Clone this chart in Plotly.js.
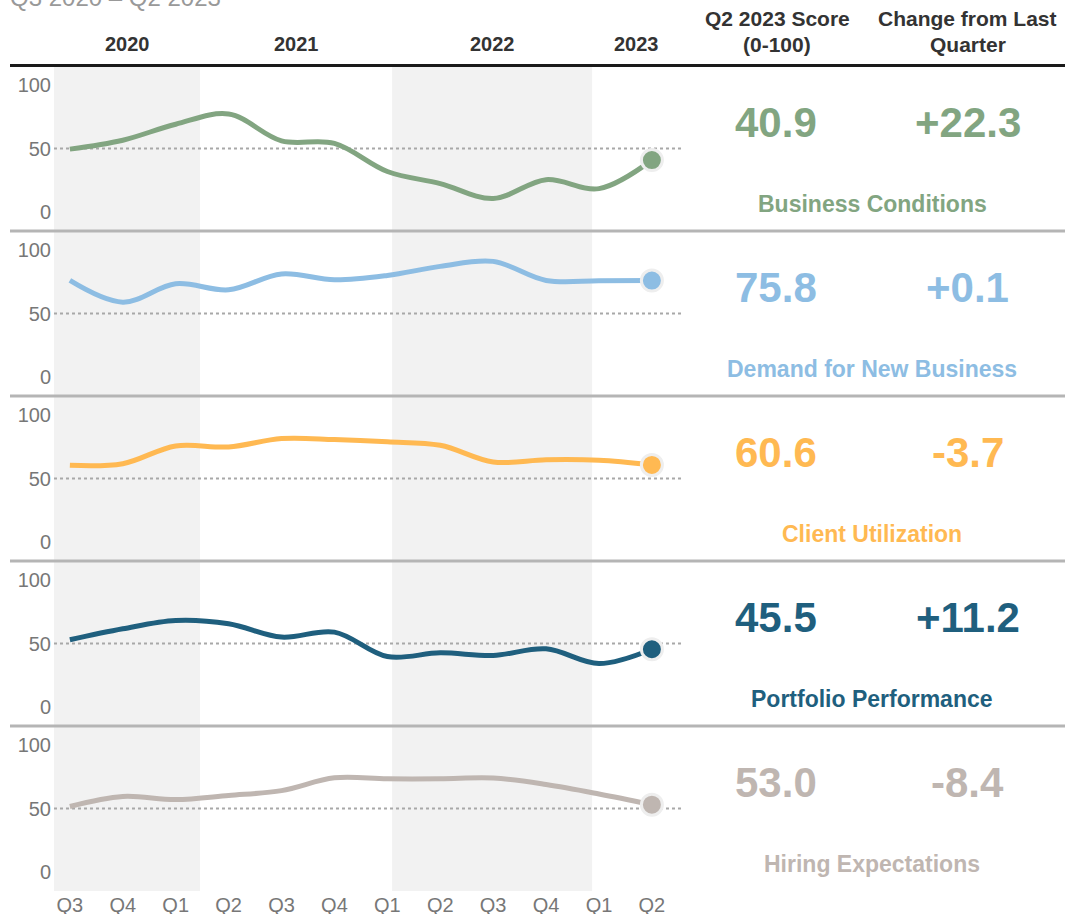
<!DOCTYPE html>
<html><head><meta charset="utf-8">
<script src="https://cdn.plot.ly/plotly-3.0.1.min.js"></script>
<style>html,body{margin:0;padding:0;background:#fff;overflow:hidden}#chart{width:1065px;height:914px}</style>
</head><body><div id="chart"></div><script>
// ---- data ----
const quarters = ['Q3','Q4','Q1','Q2','Q3','Q4','Q1','Q2','Q3','Q4','Q1','Q2'];
const years = ['2020','2021','2022','2023'];
const metrics = ['Business Conditions','Demand for New Business','Client Utilization','Portfolio Performance','Hiring Expectations'];
const businessConditions   = [49.5,56.5,69.0,77.0,56.0,54.0,32.0,22.5,10.8,25.6,18.6,40.9];
const demandNewBusiness    = [75.9,58.9,73.3,68.6,81.0,76.4,79.8,86.9,90.8,75.9,75.7,75.8];
const clientUtilization    = [60.3,61.6,75.5,74.7,81.3,80.5,78.7,76.0,62.9,64.7,64.3,60.6];
const portfolioPerformance = [52.9,61.5,68.0,65.4,55.0,58.9,39.8,42.7,40.6,45.8,34.3,45.5];
const hiringExpectations   = [51.6,59.4,57.0,60.2,64.0,74.0,73.2,73.2,73.8,68.8,61.4,53.0];
const scores  = ['40.9','75.8','60.6','45.5','53.0'];
const changes = ['+22.3','+0.1','-3.7','+11.2','-8.4'];

// ---- styling / layout helpers ----
const series = [businessConditions, demandNewBusiness, clientUtilization, portfolioPerformance, hiringExpectations];
const colors = ['#82a581','#8dbde3','#ffb952','#1f5f7e','#bfb6b1'];
const yearEdges = [-0.3, 2.46, 6.09, 9.87, 11.55];
const FONT = 'Liberation Sans, Arial, sans-serif';
const W = 1065, H = 914, L = 54, R = 681, T = 66, B = 891, PH = 165;
const px = x => (x - L) / (R - L);
const py = y => (B - y) / (B - T);
const xIdx = quarters.map((q, i) => i);

const traces = [];
const shapes = [];
const annotations = [];
const layout = {
  width: W, height: H,
  margin: {l: L, r: W - R, t: T, b: H - B, pad: 0},
  paper_bgcolor: '#fff', plot_bgcolor: 'rgba(0,0,0,0)',
  showlegend: false,
  font: {family: FONT, color: '#777'},
  xaxis: {
    range: [yearEdges[0], yearEdges[yearEdges.length - 1]],
    tickvals: xIdx, ticktext: quarters,
    tickfont: {size: 20, color: '#777', family: FONT},
    showgrid: false, zeroline: false, showline: false, ticks: '', ticklabelstandoff: 0,
    anchor: 'y5', fixedrange: true
  },
  shapes, annotations
};

// year bands
for (let i = 0; i < years.length; i++) {
  if (i % 2 === 0) {
    shapes.push({type: 'rect', xref: 'x', yref: 'paper', x0: yearEdges[i], x1: yearEdges[i + 1],
      y0: 0, y1: 1, fillcolor: '#f2f2f2', line: {width: 0}, layer: 'below'});
  }
  annotations.push({xref: 'x', yref: 'paper', x: (yearEdges[i] + yearEdges[i + 1]) / 2, y: py(44),
    text: '<b>' + years[i] + '</b>', showarrow: false, xanchor: 'center', yanchor: 'middle',
    font: {size: 20, color: '#333', family: FONT}});
}

series.forEach((vals, k) => {
  const ax = 'y' + (k + 1);
  const top = T + PH * k, bot = top + PH;
  layout['yaxis' + (k + 1)] = {
    domain: [py(bot), py(top)], range: [-14.6, 114.6],
    tickvals: [0, 50, 100], tickfont: {size: 20, color: '#777', family: FONT},
    showgrid: false, zeroline: false, showline: false, ticks: '', ticklabelstandoff: 2,
    anchor: 'x', fixedrange: true
  };
  // reference line at 50
  shapes.push({type: 'line', xref: 'paper', yref: ax, x0: 0, x1: 1, y0: 50, y1: 50,
    line: {color: '#a8a8a8', width: 2, dash: 'dot'}, layer: 'below'});
  traces.push({x: xIdx, y: vals, xaxis: 'x', yaxis: ax, type: 'scatter', mode: 'lines',
    line: {color: colors[k], width: 5, shape: 'spline', smoothing: 1}, hoverinfo: 'skip'});
  const n = vals.length - 1;
  traces.push({x: [xIdx[n]], y: [vals[n]], xaxis: 'x', yaxis: ax, type: 'scatter', mode: 'markers',
    marker: {color: colors[k], size: 21, line: {color: '#eeeeee', width: 3}}, cliponaxis: false, hoverinfo: 'skip'});
  // right side texts
  annotations.push({xref: 'paper', yref: 'paper', x: px(776), y: py(top + 56), text: '<b>' + scores[k] + '</b>',
    showarrow: false, xanchor: 'center', yanchor: 'middle', font: {size: 42, color: colors[k], family: FONT}});
  annotations.push({xref: 'paper', yref: 'paper', x: px(968), y: py(top + 56), text: '<b>' + changes[k] + '</b>',
    showarrow: false, xanchor: 'center', yanchor: 'middle', font: {size: 42, color: colors[k], family: FONT}});
  annotations.push({xref: 'paper', yref: 'paper', x: px(872), y: py(top + 138), text: '<b>' + metrics[k] + '</b>',
    showarrow: false, xanchor: 'center', yanchor: 'middle', font: {size: 23, color: colors[k], family: FONT}});
  // dividers
  if (k > 0) {
    shapes.push({type: 'line', xref: 'paper', yref: 'paper', x0: px(10), x1: px(1065), y0: py(top), y1: py(top),
      line: {color: '#b5b5b5', width: 3}});
  }
});

// top rule
shapes.push({type: 'line', xref: 'paper', yref: 'paper', x0: px(10), x1: px(1065), y0: py(65.5), y1: py(65.5),
  line: {color: '#1a1a1a', width: 3}});

// headers
const hdr = (x, y, t) => annotations.push({xref: 'paper', yref: 'paper', x: px(x), y: py(y), text: '<b>' + t + '</b>',
  showarrow: false, xanchor: 'center', yanchor: 'middle', font: {size: 21, color: '#333', family: FONT}});
hdr(777, 18, 'Q2 2023 Score');
hdr(777, 44, '(0-100)');
hdr(968, 18, 'Change from Last');
hdr(968, 44, 'Quarter');

// (cut-off) subtitle
annotations.push({xref: 'paper', yref: 'paper', x: px(8), y: py(-2), text: 'Q3 2020 – Q2 2023',
  showarrow: false, xanchor: 'left', yanchor: 'middle', font: {size: 24, color: '#999', family: FONT}});

Plotly.newPlot('chart', traces, layout, {displayModeBar: false, staticPlot: true});
</script></body></html>
